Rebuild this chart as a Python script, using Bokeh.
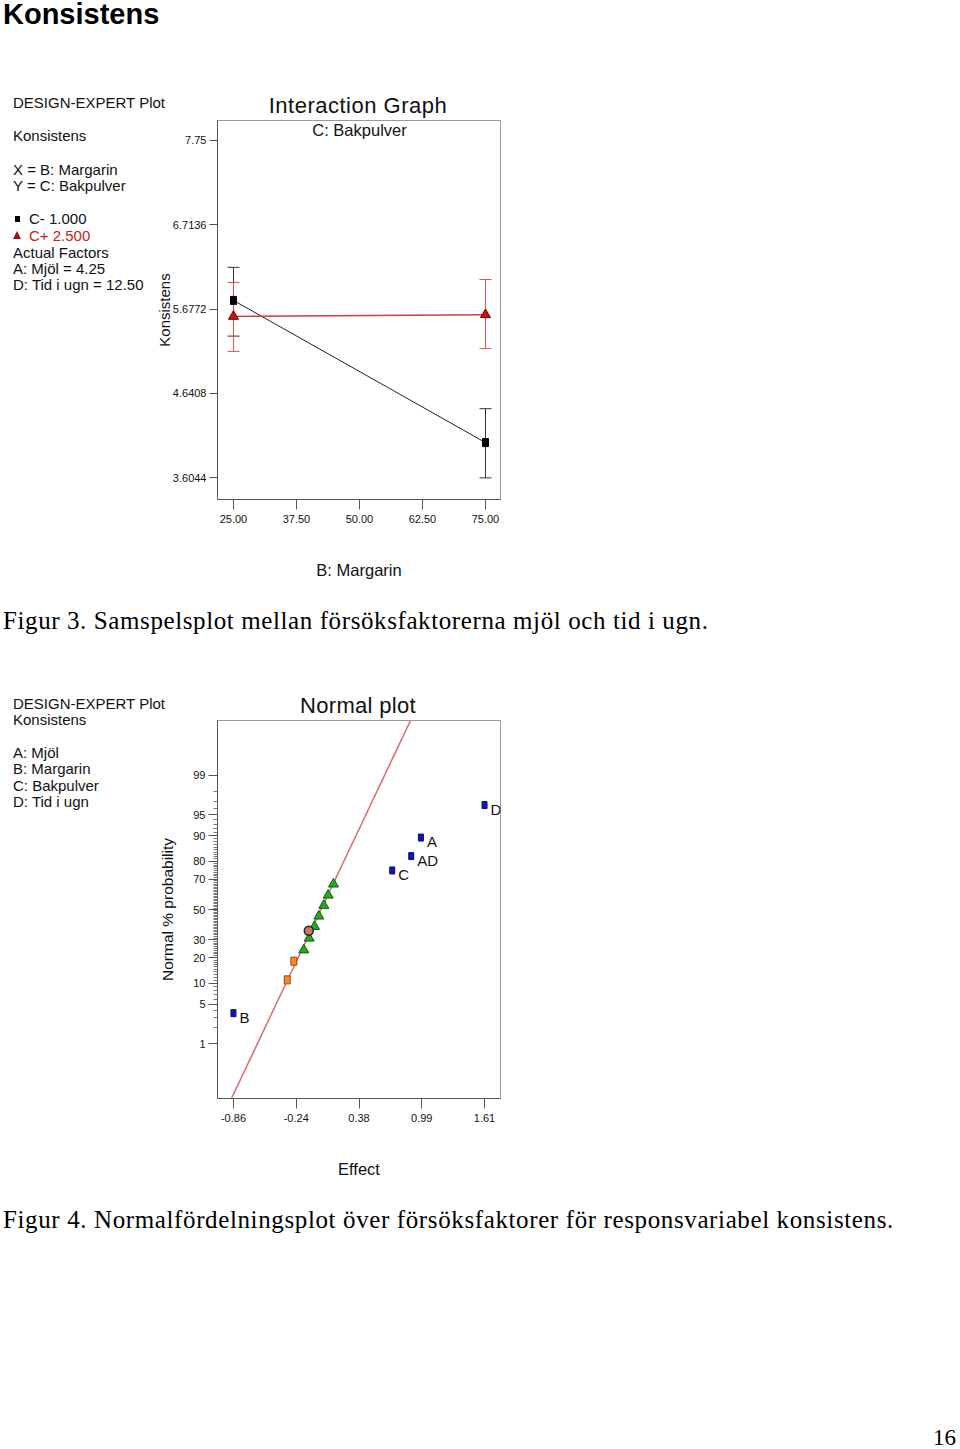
from statistics import NormalDist
from bokeh.plotting import figure
from bokeh.models import Range1d, FixedTicker, Label, Whisker, TeeHead, ColumnDataSource, Div
from bokeh.layouts import column, row
from bokeh.embed import file_html
from bokeh.resources import INLINE
from bokeh.core.properties import value

SANS = "Liberation Sans"
SERIF = "Liberation Serif"

# ---------------- data: interaction graph (Figur 3) ----------------
margarin = [25.0, 75.0]
c_minus_mean = [5.783, 4.034]
c_minus_lower = [5.344, 3.600]
c_minus_upper = [6.190, 4.451]
c_plus_mean = [5.586, 5.607]
c_plus_lower = [5.156, 5.190]
c_plus_upper = [6.004, 6.040]
x1_ticks = [25.0, 37.5, 50.0, 62.5, 75.0]
x1_labels = ["25.00", "37.50", "50.00", "62.50", "75.00"]
y1_ticks = [3.6044, 4.6408, 5.6772, 6.7136, 7.75]
y1_labels = ["3.6044", "4.6408", "5.6772", "6.7136", "7.75"]

# ---------------- data: normal plot (Figur 4) ----------------
model_terms = ["B", "C", "AD", "A", "D"]
model_effects = [-0.86, 0.702, 0.889, 0.984, 1.61]
model_prob = [3.6, 75.1, 82.3, 89.4, 96.5]
orange_effects = [-0.331, -0.266]
orange_prob = [11.1, 18.5]
green_effects = [-0.168, -0.115, -0.063, -0.020, 0.029, 0.072, 0.124]
green_prob = [24.1, 30.9, 38.4, 45.4, 52.8, 59.8, 67.0]
circle_effects = [-0.119]
circle_prob = [35.6]
fit_effects = [-0.939, 0.941]
fit_z = [-3.5, 3.5]
x2_ticks = [-0.86, -0.2425, 0.375, 0.9925, 1.61]
x2_labels = ["-0.86", "-0.24", "0.38", "0.99", "1.61"]
y2_major_prob = [1, 5, 10, 20, 30, 50, 70, 80, 90, 95, 99]
y2_minor_prob = [p for p in range(1, 100) if p not in y2_major_prob]

nd = NormalDist()


def zs(p):
    return nd.inv_cdf(p / 100.0)


W = 960
LEFT_W = 150


# ---------- HTML text helpers (page text outside the plot frames) ----------
def txt(text, x, baseline, size, serif=False, color="#111111", weight="normal",
        align="left", ls=0.0, y0=0):
    fam = "'Liberation Serif', serif" if serif else "'Liberation Sans', sans-serif"
    k = 0.8375 if serif else 0.8465
    top = baseline - y0 - k * size
    if align == "left":
        pos = f"left:{x}px;"
    elif align == "center":
        pos = f"left:{x - 400}px;width:800px;text-align:center;"
    else:
        pos = f"left:{x - 400}px;width:400px;text-align:right;"
    return (f'<div style="position:absolute;{pos}top:{top:.1f}px;font-family:{fam};'
            f'font-size:{size}px;line-height:1;white-space:nowrap;color:{color};'
            f'font-weight:{weight};letter-spacing:{ls}px;">{text}</div>')


def box(inner, w, h):
    return (f'<div style="position:relative;width:{w}px;height:{h}px;overflow:visible;">'
            f'{inner}</div>')


def style_axes(p, xtick_out, ytick_out):
    for ax in (p.xaxis[0], p.yaxis[0]):
        ax.axis_line_color = "#555555"
        ax.major_tick_line_color = "#555555"
        ax.minor_tick_line_color = "#777777"
        ax.major_tick_in = 0
        ax.minor_tick_in = 0
        ax.major_label_text_font = SANS
        ax.major_label_text_font_size = "11px"
        ax.major_label_text_color = "#111111"
        ax.axis_label_text_font = SANS
        ax.axis_label_text_font_style = "normal"
        ax.axis_label_text_color = "#111111"
    p.xaxis.major_tick_out = xtick_out
    p.yaxis.major_tick_out = ytick_out
    p.xaxis.major_label_standoff = 5
    p.yaxis.major_label_standoff = 3
    p.xgrid.visible = False
    p.ygrid.visible = False
    p.outline_line_color = "#999999"
    p.outline_line_width = 1
    p.background_fill_color = "white"
    p.border_fill_color = None


# ================= figure 1 (page y 0..600) =================
H1 = 600
FL1, FT1, FR1, FB1 = 217, 120, 500, 499
p1 = figure(width=W - LEFT_W, height=H1, output_backend="svg", toolbar_location=None,
            x_range=Range1d(21.83, 77.98), y_range=Range1d(3.334, 7.996),
            min_border_left=FL1 - LEFT_W, min_border_right=W - FR1,
            min_border_top=FT1, min_border_bottom=H1 - FB1)
style_axes(p1, 10, 8)
p1.xaxis.ticker = FixedTicker(ticks=x1_ticks, minor_ticks=[])
p1.yaxis.ticker = FixedTicker(ticks=y1_ticks, minor_ticks=[])
p1.xaxis.major_label_overrides = {t: l for t, l in zip(x1_ticks, x1_labels)}
p1.yaxis.major_label_overrides = {t: l for t, l in zip(y1_ticks, y1_labels)}
p1.xaxis.axis_label = "B: Margarin"
p1.xaxis.axis_label_text_font_size = "16.5px"
p1.xaxis.axis_label_standoff = 35
p1.yaxis.axis_label = "Konsistens"
p1.yaxis.axis_label_text_font_size = "15px"
p1.yaxis.axis_label_standoff = -3

src_minus = ColumnDataSource(dict(x=margarin, lo=c_minus_lower, hi=c_minus_upper))
src_plus = ColumnDataSource(dict(x=margarin, lo=c_plus_lower, hi=c_plus_upper))
for src, col in ((src_minus, "#333333"), (src_plus, "#d85555")):
    p1.add_layout(Whisker(source=src, base="x", lower="lo", upper="hi",
                          line_color=col, line_width=1,
                          lower_head=TeeHead(size=12, line_color=col, line_width=1),
                          upper_head=TeeHead(size=12, line_color=col, line_width=1)))

p1.line(margarin, c_minus_mean, line_color="#222222", line_width=1)
p1.line(margarin, c_plus_mean, line_color="#d43a3a", line_width=1.4)
p1.rect(margarin, c_minus_mean, width=6, height=8, width_units="screen",
        height_units="screen", fill_color="black", line_color="black")
p1.scatter(margarin, c_plus_mean, marker="triangle", size=10,
           fill_color="#cc1111", line_color="#6a0000")
p1.add_layout(Label(x=359 - FL1, y=FB1 - 129, x_units="screen", y_units="screen",
                    text="C: Bakpulver", text_font=SANS, text_font_size="16.5px",
                    text_align="center", text_baseline="middle",
                    text_color="#111111"))

html1 = "".join([
    txt("Konsistens", 3, 24, 29, weight="bold", color="#000000"),
    txt("DESIGN-EXPERT Plot", 13, 108, 15),
    txt("Interaction Graph", 358, 113.5, 22, align="center", ls=0.5),
    txt("Konsistens", 13, 141, 15),
    txt("X = B: Margarin", 13, 174.5, 15),
    txt("Y = C: Bakpulver", 13, 191, 15),
    '<div style="position:absolute;left:15px;top:216px;width:5px;height:6px;background:#000;"></div>',
    txt("C- 1.000", 29, 224, 15),
    '<div style="position:absolute;left:13px;top:231px;width:0;height:0;'
    'border-left:4px solid transparent;border-right:4px solid transparent;'
    'border-bottom:8px solid #9a1010;"></div>',
    txt("C+ 2.500", 29, 240.7, 15, color="#cc2020"),
    txt("Actual Factors", 13, 257.3, 15),
    txt("A: Mj\u00f6l = 4.25", 13, 273.5, 15),
    txt("D: Tid i ugn = 12.50", 13, 290, 15),
])
left1 = Div(text=box(html1, LEFT_W, H1), width=LEFT_W, height=H1, margin=0,
            styles={"overflow": "visible"})

# ================= figure 2 (page y 600..1449) =================
TOP2 = H1
H2 = 1449 - H1
FL2, FT2, FR2, FB2 = 217, 720, 500, 1098
p2 = figure(width=W - LEFT_W, height=H2, output_backend="svg", toolbar_location=None,
            x_range=Range1d(-1.017, 1.767), y_range=Range1d(-3.28, 3.28),
            min_border_left=FL2 - LEFT_W, min_border_right=W - FR2,
            min_border_top=FT2 - TOP2, min_border_bottom=TOP2 + H2 - FB2)
style_axes(p2, 10, 9)
p2.yaxis.minor_tick_out = 4
p2.xaxis.ticker = FixedTicker(ticks=x2_ticks, minor_ticks=[])
p2.xaxis.major_label_overrides = {t: l for t, l in zip(x2_ticks, x2_labels)}
y2_major = [zs(p) for p in y2_major_prob]
y2_minor = [zs(p) for p in y2_minor_prob]
p2.yaxis.ticker = FixedTicker(ticks=y2_major, minor_ticks=y2_minor)
p2.yaxis.major_label_overrides = {t: str(p) for t, p in zip(y2_major, y2_major_prob)}
p2.xaxis.axis_label = "Effect"
p2.xaxis.axis_label_text_font_size = "16.5px"
p2.xaxis.axis_label_standoff = 35
p2.yaxis.axis_label = "Normal % probability"
p2.yaxis.axis_label_text_font_size = "15.5px"
p2.yaxis.axis_label_standoff = 14

p2.line(fit_effects, fit_z, line_color="#e06b6b", line_width=1.5)
p2.rect(orange_effects, [zs(p) for p in orange_prob], width=6, height=8,
        width_units="screen", height_units="screen",
        fill_color="#f5892e", line_color="#9a4a10")
p2.scatter(green_effects, [zs(p) for p in green_prob], marker="triangle", size=10,
           fill_color="#22aa22", line_color="#0b5e0b")
p2.scatter(circle_effects, [zs(p) for p in circle_prob], marker="circle", size=9,
           fill_color="#c87a6e", line_color="#222222", line_width=1.5)
mz = [zs(p) for p in model_prob]
p2.rect(model_effects, mz, width=5, height=7, width_units="screen",
        height_units="screen", fill_color="#1515a8", line_color="#0a0a80")
p2.text(model_effects, mz, text=model_terms, x_offset=6, y_offset=4,
        text_font=value(SANS), text_font_size="15px", text_baseline="middle",
        text_align="left", text_color="#111111")

html2 = "".join([
    txt("Figur 3. Samspelsplot mellan f\u00f6rs\u00f6ksfaktorerna mj\u00f6l och tid i ugn.",
        3, 628.5, 25, serif=True, color="#000000", ls=0.6, y0=TOP2),
    txt("DESIGN-EXPERT Plot", 13, 708.3, 15, y0=TOP2),
    txt("Normal plot", 358, 713.5, 22, align="center", ls=0.3, y0=TOP2),
    txt("Konsistens", 13, 725, 15, y0=TOP2),
    txt("A: Mj\u00f6l", 13, 757.3, 15, y0=TOP2),
    txt("B: Margarin", 13, 774, 15, y0=TOP2),
    txt("C: Bakpulver", 13, 790.7, 15, y0=TOP2),
    txt("D: Tid i ugn", 13, 806.7, 15, y0=TOP2),
    txt("Figur 4. Normalf\u00f6rdelningsplot \u00f6ver f\u00f6rs\u00f6ksfaktorer f\u00f6r "
        "responsvariabel konsistens.", 3, 1228, 25, serif=True, color="#000000",
        ls=0.62, y0=TOP2),
    txt("16", 933, 1445, 23, serif=True, color="#000000", y0=TOP2),
])
left2 = Div(text=box(html2, LEFT_W, H2), width=LEFT_W, height=H2, margin=0,
            styles={"overflow": "visible"})

layout = column(row(left1, p1, spacing=0), row(left2, p2, spacing=0), spacing=0)
open("out.html", "w").write(file_html(layout, INLINE))
